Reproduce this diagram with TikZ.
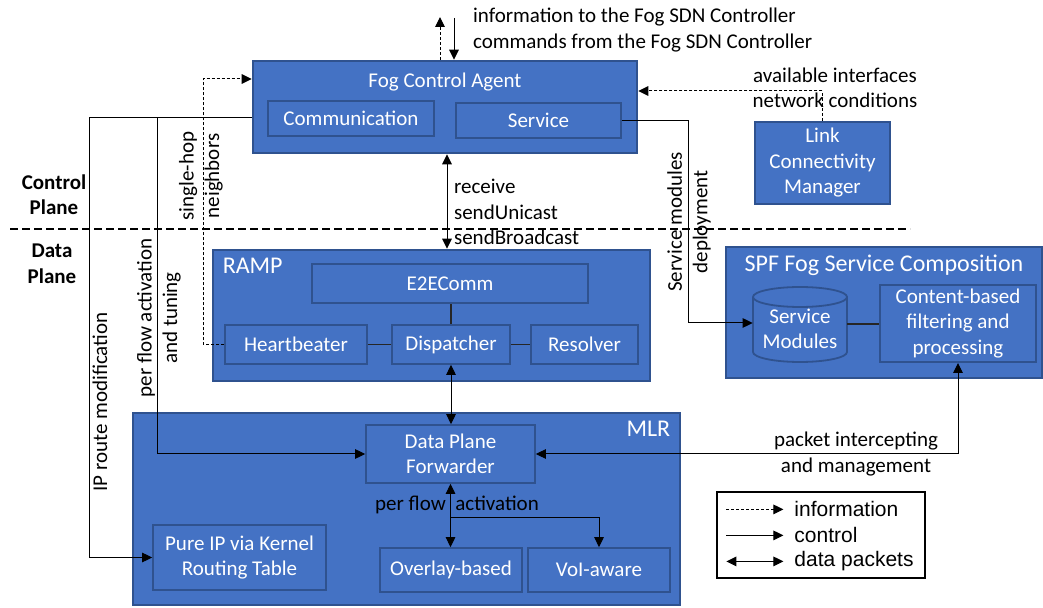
\documentclass[tikz,border=0pt]{standalone}
\usepackage{fontspec}
\setmainfont{Carlito}
\newfontfamily\legendfont{Liberation Sans}
\usepackage{tikz}
\usetikzlibrary{positioning,arrows.meta}
\definecolor{boxblue}{HTML}{4472C4}
\definecolor{boxedge}{HTML}{2F528F}
\newcommand{\figfont}{\fontsize{10.5}{12.75}\selectfont}

\begin{document}
\begin{tikzpicture}[x=0.5pt,y=-0.5pt,font=\figfont]
	\tikzstyle{outerbox} = [rectangle, draw=boxedge, line width=1.3pt, fill=boxblue]
	\tikzstyle{innerbox} = [rectangle, draw=boxedge, line width=0.9pt, fill=boxblue, text=white, align=center, inner sep=2pt]
	\tikzstyle{boxtitle} = [text=white, font=\fontsize{12}{14}\selectfont]
	\tikzstyle{ctrl} = [-{Triangle[length=5pt,width=4.8pt]}, black, line width=0.5pt]
	\tikzstyle{info} = [ctrl, dash pattern=on 1.5pt off 1pt]
	\tikzstyle{data} = [{Triangle[length=5pt,width=4.8pt]}-{Triangle[length=5pt,width=4.8pt]}, black, line width=0.5pt]
	\tikzstyle{link} = [-, black!85, line width=0.6pt]
	
	\useasboundingbox (0,0) rectangle (1043,608);
	
	%control plane
	\node (fca) at (445,107) [outerbox, minimum width=192pt, minimum height=46pt]{};
	\node[text=white, below=3pt of fca.north] (fcatitle) {Fog Control Agent};
	\node (comm) at (351,118.5) [innerbox, minimum width=83pt, minimum height=17.5pt]{Communication};
	\node (svc) at (538.5,120.5) [innerbox, minimum width=82.5pt, minimum height=17.5pt]{Service};
	\node (lcm) at (822.5,163) [outerbox, line width=0.9pt, text=white, align=center, minimum width=67.5pt, minimum height=41pt]{Link\\Connectivity\\Manager};
	
	\node[font=\figfont\bfseries, align=center] (ctrlplane) at (54,194.5) {Control\\Plane};
	\node[font=\figfont\bfseries, align=center] (dataplane) at (52,264) {Data\\Plane};
	\coordinate (sepl) at (10,229);
	\coordinate (sepr) at (910,229);
	\draw[line width=1.1pt, dash pattern=on 4pt off 2pt] (sepl) -- (sepr);
	
	%RAMP
	\node (ramp) at (431.5,315.5) [outerbox, minimum width=218.5pt, minimum height=65.5pt]{};
	\node[boxtitle, below right=1pt and 2pt of ramp.north west] (ramptitle) {RAMP};
	\node (e2e) at (450,283.5) [innerbox, minimum width=138pt, minimum height=19.5pt]{E2EComm};
	\node (hb) at (296,344.5) [innerbox, minimum width=71pt, minimum height=19.5pt]{Heartbeater};
	\node (disp) at (451,344.5) [innerbox, minimum width=59pt, minimum height=19.5pt]{Dispatcher};
	\node (res) at (584.5,344.5) [innerbox, minimum width=53.5pt, minimum height=19.5pt]{Resolver};
	
	%SPF
	\node (spf) at (884,312.5) [outerbox, minimum width=158pt, minimum height=65.5pt]{};
	\node[boxtitle, below=1pt of spf.north] (spftitle) {SPF Fog Service Composition};
	\draw[draw=boxedge, line width=0.9pt, fill=boxblue] (753,297) -- (753,352) arc[start angle=180,end angle=360,x radius=23.5pt,y radius=5pt] -- (847,297) arc[start angle=0,end angle=180,x radius=23.5pt,y radius=5pt] -- cycle;
	\draw[draw=boxedge, line width=0.9pt] (753,297) arc[start angle=180,end angle=360,x radius=23.5pt,y radius=5pt];
	\node (svcmod) at (800,329) [text=white, align=center, minimum width=47pt, minimum height=37.5pt]{Service\\Modules};
	\node (content) at (958,323.5) [innerbox, minimum width=78pt, minimum height=38.5pt]{Content-based\\filtering and\\processing};
	
	%MLR
	\node (mlr) at (406.5,509) [outerbox, minimum width=273.5pt, minimum height=96pt]{};
	\node[boxtitle, below left=1pt and 2pt of mlr.north east] (mlrtitle) {MLR};
	\node (dpf) at (450.5,454) [innerbox, minimum width=84.5pt, minimum height=29pt]{Data Plane\\Forwarder};
	\node (pureip) at (239.5,557.5) [innerbox, minimum width=86.5pt, minimum height=32.5pt]{Pure IP via Kernel\\Routing Table};
	\node (ovl) at (451,570) [innerbox, minimum width=71pt, minimum height=22pt]{Overlay-based};
	\node (vol) at (599,570) [innerbox, minimum width=71pt, minimum height=22pt]{VoI-aware};
	
	%labels
	\coordinate (sdnup) at (440,17);
	\coordinate (sdndown) at (454,18);
	\node[anchor=west, align=left] (sdntext) at (466,30) {information to the Fog SDN Controller\\commands from the Fog SDN Controller};
	\node[align=center] (lcmtext) at (835,88) {available interfaces\\network conditions};
	\node[anchor=west, align=left] (rampapi) at (447,212) {receive\\sendUnicast\\sendBroadcast};
	\node[rotate=90, align=center] (hoplbl) at (201,176) {single-hop\\neighbors};
	\node[rotate=90, align=center] (flowlbl) at (159,318) {per flow activation\\and tuning};
	\node[rotate=90] (iplbl) at (100,402) {IP route modification};
	\node[rotate=90, align=center] (deplbl) at (689,222) {Service modules\\deployment};
	\node[align=center] (pktlbl) at (856,454) {packet intercepting\\and management};
	\node (pflbl) at (457,505) {per flow\ \ activation};
	
	%Arrows
	\draw[info] (sdnup |- fca.north) -- (sdnup);
	\draw[ctrl] (sdndown) -- (sdndown |- fca.north);
	\draw[info] (lcm.north) |- ([yshift=8pt]fca.east);
	\draw[ctrl] (svc.east) -- ++(33.5pt,0) |- ([yshift=3pt]svcmod.west);
	\draw[data] ([xshift=1pt]fca.south) -- ([xshift=1pt]fca.south |- ramp.north);
	\draw[info] (hb.west) -- ++(-10.5pt,0) |- ([yshift=14pt]fca.west);
	\coordinate (iptap) at ([yshift=-5.5pt]fca.west);
	\draw[ctrl] (iptap) -- ++(-81pt,0) |- (pureip.west);
	\draw[ctrl] ([xshift=-47pt]iptap) |- (dpf.west);
	\draw[data] (disp.south) -- (disp.south |- dpf.north);
	\draw[data] (dpf.east) -| (content.south);
	\draw[data] (dpf.south) -- (dpf.south |- ovl.north);
	\coordinate (pfsplit) at ([yshift=-17pt]dpf.south);
	\draw[ctrl] (pfsplit) -| (vol.north);
	%links
	\draw[link] (hb) -- (disp);
	\draw[link] (disp) -- (res);
	\draw[link] (disp.north) -- (disp.north |- e2e.south);
	\draw[link] ([yshift=2.5pt]svcmod.east) -- ([yshift=2.5pt]svcmod.east -| content.west);
	
	%legend
	\node (legend) at (821,535) [rectangle, draw=black, fill=white, line width=0.6pt, minimum width=104pt, minimum height=43pt]{};
	\coordinate (lg1a) at ([shift={(5pt,-9pt)}]legend.north west);
	\coordinate (lg1b) at ([shift={(33.5pt,-9pt)}]legend.north west);
	\coordinate (lg2a) at ([shift={(5pt,-22pt)}]legend.north west);
	\coordinate (lg2b) at ([shift={(33.5pt,-22pt)}]legend.north west);
	\coordinate (lg3a) at ([shift={(5pt,-35pt)}]legend.north west);
	\coordinate (lg3b) at ([shift={(33.5pt,-35pt)}]legend.north west);
	\draw[info] (lg1a) -- (lg1b);
	\draw[ctrl] (lg2a) -- (lg2b);
	\draw[data] (lg3a) -- (lg3b);
	\node[right=2pt of lg1b, font=\figfont\legendfont] (lginfo) {information};
	\node[right=2pt of lg2b, font=\figfont\legendfont] (lgctrl) {control};
	\node[right=2pt of lg3b, font=\figfont\legendfont] (lgdata) {data packets};
	
\end{tikzpicture}
\end{document}
